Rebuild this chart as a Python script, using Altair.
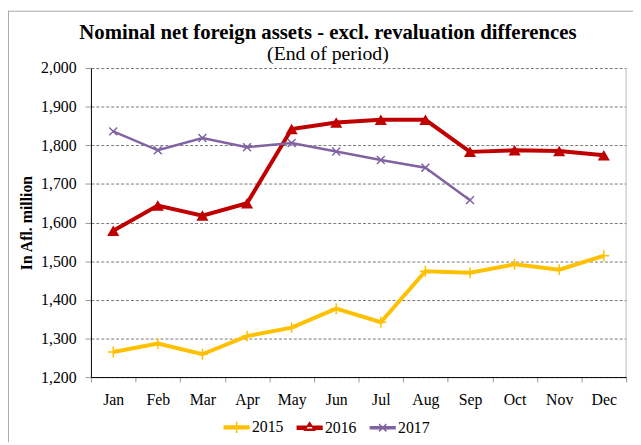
import altair as alt
import pandas as pd

months = ["Jan", "Feb", "Mar", "Apr", "May", "Jun", "Jul", "Aug", "Sep", "Oct", "Nov", "Dec"]
years = ["2015", "2016", "2017"]
v2015 = [1265, 1287, 1259, 1306, 1328, 1377, 1342, 1474, 1470, 1492, 1478, 1514]
v2016 = [1579, 1644, 1618, 1650, 1842, 1859, 1866, 1866, 1783, 1787, 1785, 1774]
v2017 = [1836, 1787, 1819, 1795, 1806, 1784, 1762, 1742, 1658]
colors = ["#FFC000", "#C00000", "#8064A2"]
y_ticks = [1200, 1300, 1400, 1500, 1600, 1700, 1800, 1900, 2000]

rows = []
for yr, vals in zip(years, [v2015, v2016, v2017]):
    for m, v in zip(months, vals):
        rows.append({"month": m, "year": yr, "value": v})
df = pd.DataFrame(rows)

FONT = "Liberation Serif"
W, H = 542, 313

PLUS = "M0,-1L0,1M-1,0L1,0"
XMARK = "M-1,-1L1,1M-1,1L1,-1"
L15 = "M-1,-0.12L1,-0.12L1,0.12L-1,0.12Z M0,-0.45L0,0.45"
L16 = "M-1,-0.12L1,-0.12L1,0.12L-1,0.12Z M-0.4,0.2L0.4,0.2L0,-0.42Z"
L17 = "M-1,-0.08L1,-0.08L1,0.08L-1,0.08Z M-0.3,-0.3L0.3,0.3M-0.3,0.3L0.3,-0.3"

x = alt.X(
    "month:N", sort=months,
    scale=alt.Scale(type="band", paddingInner=0, paddingOuter=0),
    axis=alt.Axis(title=None, tickBand="extent", labelAngle=0, labelFont=FONT,
                  labelFontSize=16, labelColor="black", tickColor="#999",
                  tickSize=5, domainColor="black", labelPadding=10, grid=False),
)
y = alt.Y(
    "value:Q",
    scale=alt.Scale(domain=[1200, 2000], nice=False, zero=False),
    axis=alt.Axis(values=y_ticks, format=",.0f", title="In Afl. million",
                  titleFont=FONT, titleFontSize=16, titleFontWeight="bold",
                  titleColor="black", titleX=-65, titleY=H / 2, titleAngle=270,
                  titleAlign="center", titleBaseline="middle",
                  labelFont=FONT, labelFontSize=16, labelColor="black",
                  grid=True, gridColor="#777", gridDash=[3, 2], gridWidth=1,
                  tickColor="#999", tickSize=6, labelPadding=9,
                  domainColor="black"),
)

base = alt.Chart(df)


def series(yr):
    return base.transform_filter(f"datum.year == '{yr}'")


l15 = series("2015").mark_line(color=colors[0], strokeWidth=4).encode(x=x, y=y)
l16 = series("2016").mark_line(color=colors[1], strokeWidth=4).encode(x=x, y=y)
l17 = series("2017").mark_line(color=colors[2], strokeWidth=2.5).encode(x=x, y=y)
m15 = series("2015").mark_point(shape=PLUS, size=121, strokeWidth=1.5, filled=False,
                                opacity=1, color=colors[0]).encode(x=x, y=y)
m16 = series("2016").mark_point(shape="triangle-up", size=150, filled=True,
                                opacity=1, color=colors[1]).encode(x=x, y=y)
m17 = series("2017").mark_point(shape=XMARK, size=64, strokeWidth=1.5, filled=False,
                                opacity=1, color=colors[2]).encode(x=x, y=y)

leg = base.mark_point(filled=True, opacity=0).encode(
    x=x, y=y,
    color=alt.Color("year:N", scale=alt.Scale(domain=years, range=colors), legend=alt.Legend(title=None)),
    stroke=alt.Stroke("year:N", scale=alt.Scale(domain=years, range=colors), legend=alt.Legend(title=None)),
    shape=alt.Shape("year:N", scale=alt.Scale(domain=years, range=[L15, L16, L17]), legend=alt.Legend(title=None)),
)

one = alt.Chart(pd.DataFrame({"a": [0]}))
right_border = one.mark_rule(color="#bbb", strokeWidth=1).encode(
    x=alt.value(W), y=alt.value(0), y2=alt.value(H))
frame_top = one.mark_rule(color="#aaa", strokeWidth=1).encode(
    x=alt.value(-84), x2=alt.value(W + 7), y=alt.value(-57.5))
frame_left = one.mark_rule(color="#aaa", strokeWidth=1).encode(
    x=alt.value(-83.5), y=alt.value(-58), y2=alt.value(H + 66))

chart = alt.layer(right_border, l15, l16, l17, m15, m16, m17, leg, frame_top, frame_left).properties(
    width=W, height=H,
    autosize=alt.AutoSizeParams(type="none"),
    padding={"left": 84, "top": 58, "right": 7, "bottom": 66},
    title=alt.Title(
        "Nominal net foreign assets - excl. revaluation differences",
        subtitle="(End of period)",
        font=FONT, fontSize=21, fontWeight="bold", color="black",
        subtitleFont=FONT, subtitleFontSize=20, subtitleColor="black",
        anchor="middle", dx=-31, offset=-54, subtitlePadding=1,
    ),
).configure_view(stroke=None).configure_legend(
    orient="none", legendX=134, legendY=350, direction="horizontal",
    symbolSize=625, symbolStrokeWidth=1.5, symbolOpacity=1,
    labelFont=FONT, labelFontSize=16, labelColor="black", labelOffset=2,
    columnPadding=11,
)

chart.save("out.html", embed_options={"renderer": "svg", "actions": False})
